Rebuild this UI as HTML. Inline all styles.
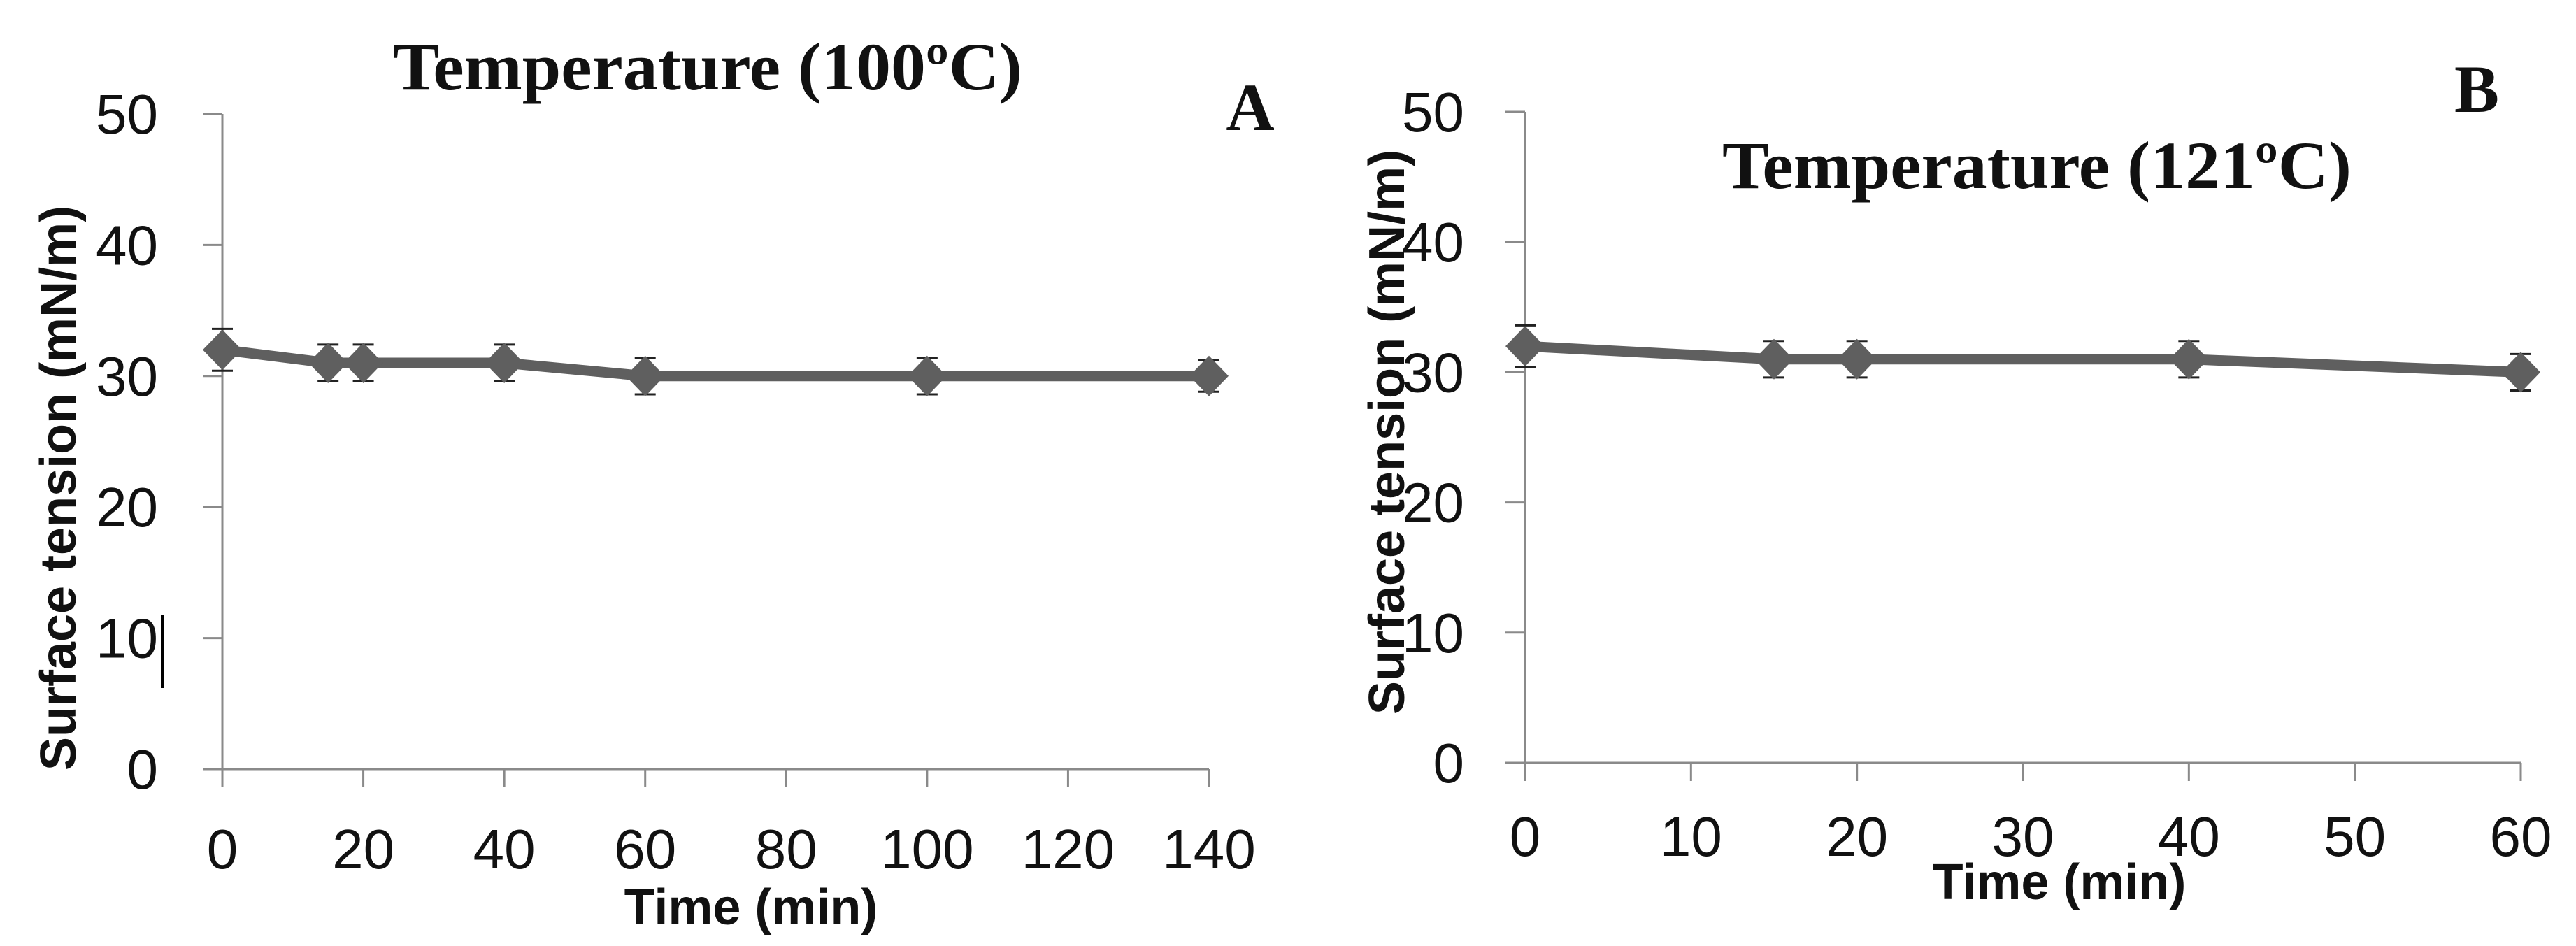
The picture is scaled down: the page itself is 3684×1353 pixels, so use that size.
<!DOCTYPE html>
<html><head><meta charset="utf-8"><style>
body{margin:0;background:#fff;}
svg{display:block;}
.tick{font-family:"Liberation Sans",sans-serif;font-size:80px;fill:#111;}
.ttl{font-family:"Liberation Serif",serif;font-weight:bold;font-size:96px;fill:#111;}
.ax{font-family:"Liberation Sans",sans-serif;font-weight:bold;font-size:72px;fill:#111;}
</style></head><body>
<svg id="c" width="3684" height="1353" viewBox="0 0 3684 1353">
<text class="ttl" x="1012" y="128" text-anchor="middle" textLength="900" lengthAdjust="spacingAndGlyphs">Temperature (100ºC)</text>
<text class="ttl" x="1788" y="186" text-anchor="middle">A</text>
<text class="ttl" x="2913" y="269" text-anchor="middle" textLength="900" lengthAdjust="spacingAndGlyphs">Temperature (121ºC)</text>
<text class="ttl" x="3542" y="160" text-anchor="middle">B</text>
<line x1="232" y1="880" x2="232" y2="984" stroke="#000" stroke-width="4"/>
</svg>
<script>
const timesA=[0,15,20,40,60,100,140];
const valuesA=[32,31,31,31,30,30,30];
const errA=[1.6,1.4,1.4,1.4,1.4,1.4,1.2];
const xTicksA=[0,20,40,60,80,100,120,140];
const timesB=[0,15,20,40,60];
const valuesB=[32,31,31,31,30];
const errB=[1.6,1.4,1.4,1.4,1.4];
const xTicksB=[0,10,20,30,40,50,60];
const yTicks=[0,10,20,30,40,50];
const NS="http://www.w3.org/2000/svg";
const svg=document.getElementById('c');
function mk(t,a,p){const e=document.createElementNS(NS,t);for(const k in a)e.setAttribute(k,a[k]);(p||svg).appendChild(e);return e;}
function panel(id,cfg,times,vals,errs,xt){
  const g=mk('g',{});
  
  
  const X=v=>cfg.x0+(v-cfg.xmin)/(cfg.xmax-cfg.xmin)*(cfg.x1-cfg.x0);
  const Y=v=>cfg.y0+(v/50)*(cfg.y1-cfg.y0);
  const ya=mk('line',{x1:cfg.x0,y1:cfg.y1,x2:cfg.x0,y2:cfg.y0,stroke:'#8a8a8a','stroke-width':3},g);
  
  
  const xa=mk('line',{x1:cfg.x0-28,y1:cfg.y0,x2:cfg.x1,y2:cfg.y0,stroke:'#8a8a8a','stroke-width':3},g);
  
  
  yTicks.forEach(v=>{
    mk('line',{x1:cfg.x0-28,y1:Y(v),x2:cfg.x0,y2:Y(v),stroke:'#8a8a8a','stroke-width':3},g);
    const t=mk('text',{class:'tick',x:cfg.ylx,y:Y(v)+28,'text-anchor':'end'},g);
    t.textContent=v;
    
    
  });
  xt.forEach(v=>{
    mk('line',{x1:X(v),y1:cfg.y0,x2:X(v),y2:cfg.y0+26,stroke:'#8a8a8a','stroke-width':3},g);
    const t=mk('text',{class:'tick',x:X(v),y:cfg.xly,'text-anchor':'middle'},g);
    t.textContent=v;
    
    
  });
  const xt2=mk('text',{class:'ax',x:cfg.xtx,y:cfg.xty,'text-anchor':'middle'},g);
  xt2.textContent='Time (min)';
  
  
  const yt=mk('text',{class:'ax',x:0,y:0,'text-anchor':'middle',transform:`translate(${cfg.ytx},${cfg.yty}) rotate(-90)`},g);
  yt.textContent='Surface tension  (mN/m)';
  
  
  const pts=times.map((t,i)=>X(t)+','+Y(vals[i])).join(' ');
  const pl=mk('polyline',{points:pts,fill:'none',stroke:'#5f5f5f','stroke-width':15,'stroke-linejoin':'round'},g);
  
  
  times.forEach((t,i)=>{
    const x=X(t),yt1=Y(vals[i]+errs[i]),yb=Y(vals[i]-errs[i]);
    const eb=mk('path',{d:`M${x},${yt1}V${yb}M${x-15},${yt1}H${x+15}M${x-15},${yb}H${x+15}`,stroke:'#222','stroke-width':3,fill:'none'},g);
    
    
    const y=Y(vals[i]);
    const d=mk('path',{d:`M${x},${y-29}L${x+28},${y}L${x},${y+29}L${x-28},${y}Z`,fill:'#5f5f5f'},g);
    
    
  });
}
panel('a',{x0:318,x1:1729,xmin:0,xmax:140,y0:1100,y1:163,ylx:226,xly:1242,xtx:1074,xty:1322,ytx:108,yty:698},timesA,valuesA,errA,xTicksA);
panel('b',{x0:2181,x1:3605,xmin:0,xmax:60,y0:1091,y1:160,ylx:2094,xly:1224,xtx:2945,xty:1286,ytx:2008,yty:618},timesB,valuesB,errB,xTicksB);
</script>
</body></html>
